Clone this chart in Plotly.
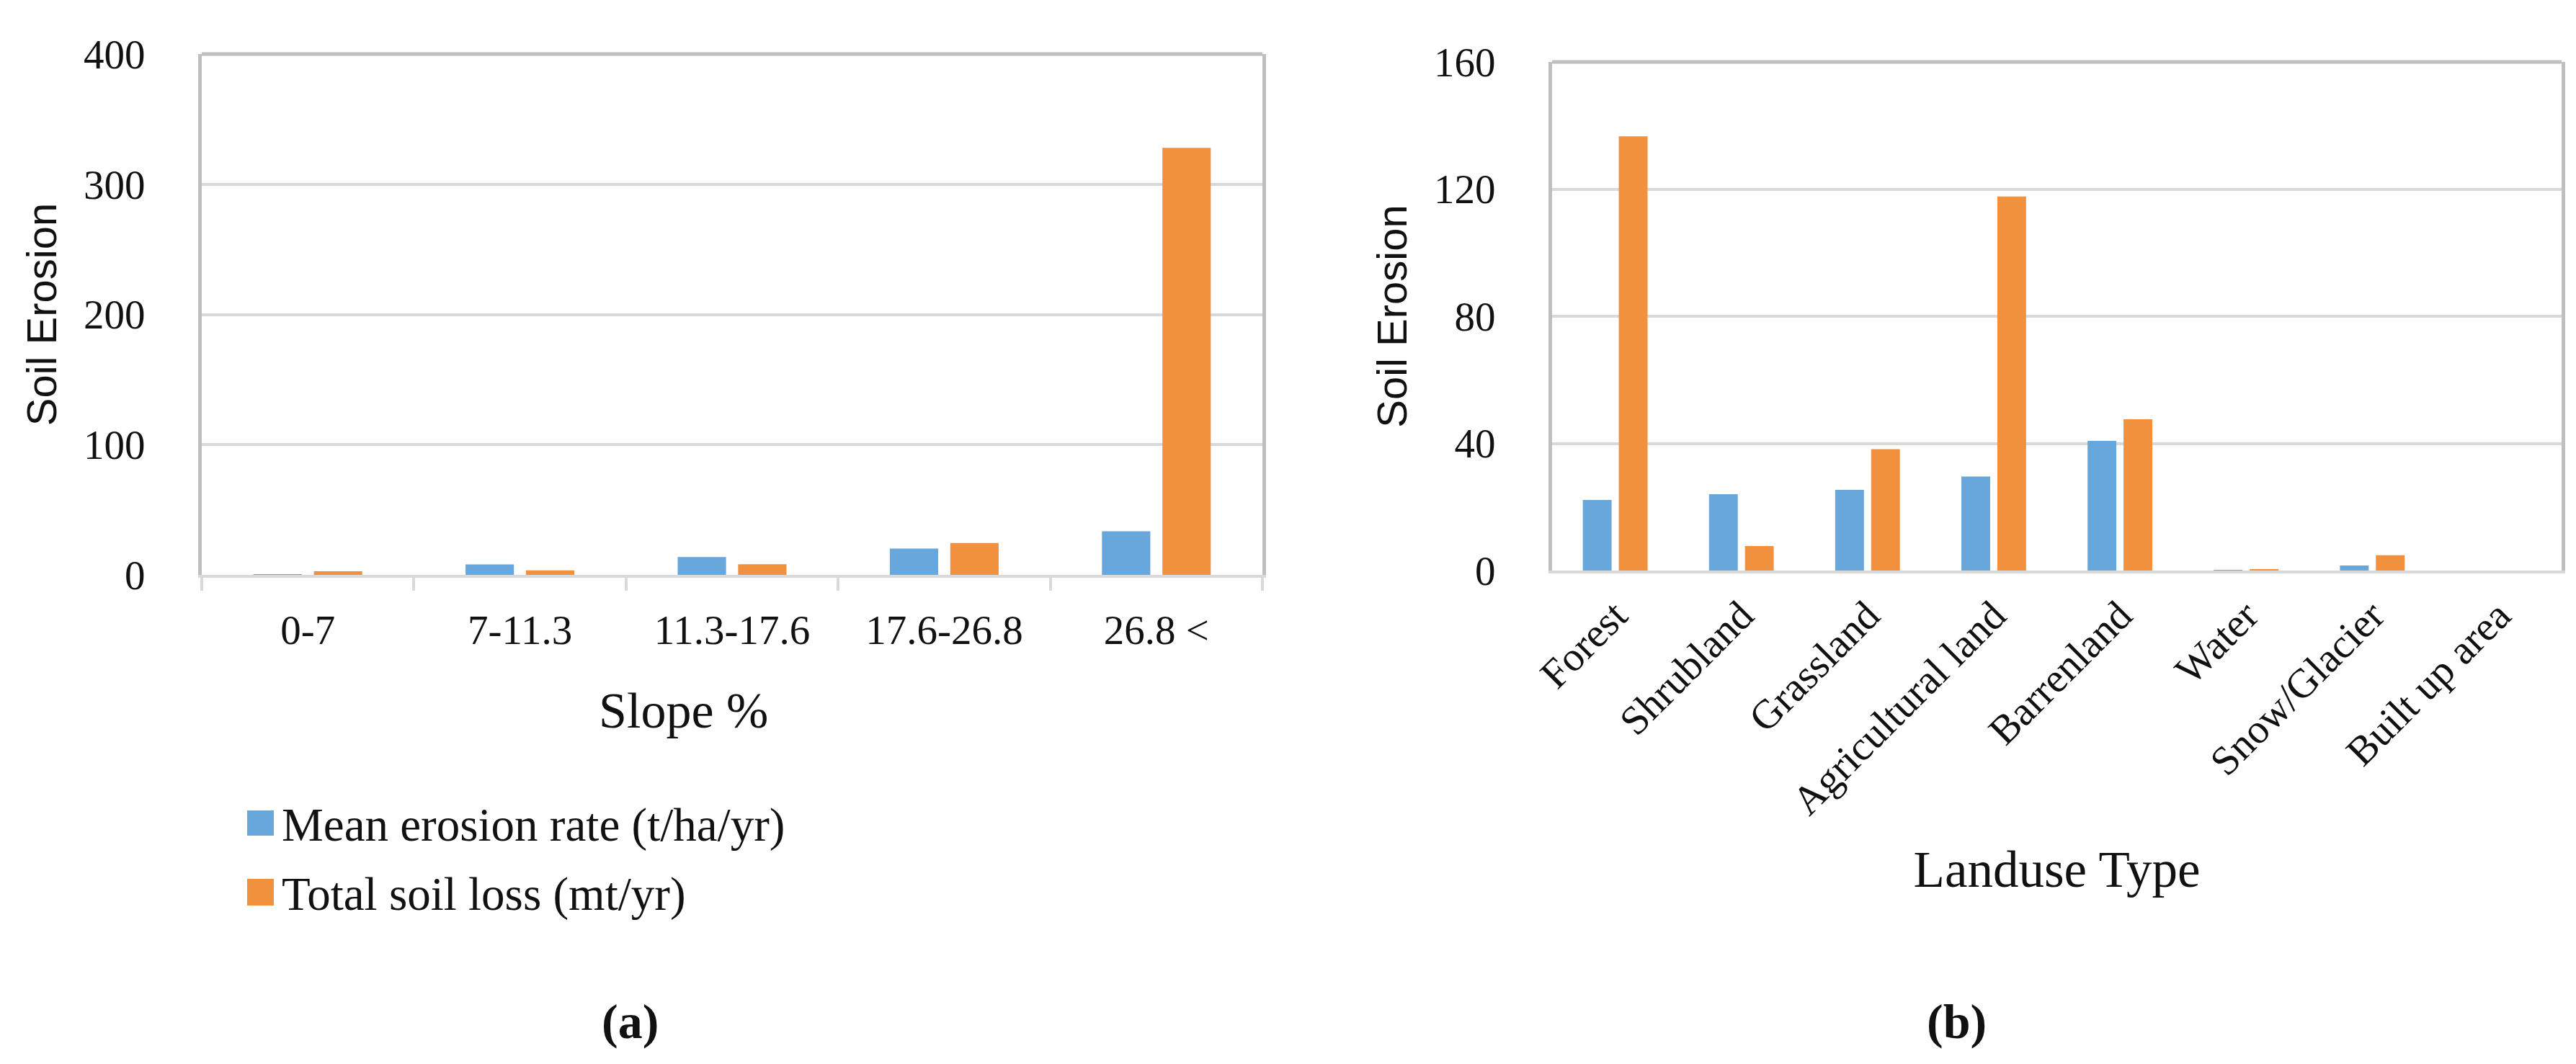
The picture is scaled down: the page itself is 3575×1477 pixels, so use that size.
import plotly.graph_objects as go

# ---------------- data ----------------
slope_classes = ["0-7", "7-11.3", "11.3-17.6", "17.6-26.8", "26.8 <"]
slope_mean_rate = [0.2, 8.0, 13.7, 20.2, 33.5]
slope_total_loss = [2.7, 3.5, 8.1, 24.5, 328.0]

landuse_types = ["Forest", "Shrubland", "Grassland", "Agricultural land",
                 "Barrenland", "Water", "Snow/Glacier", "Built up area"]
landuse_mean_rate = [22.2, 24.0, 25.4, 29.6, 40.8, 0.05, 1.6, 0.0]
landuse_total_loss = [136.6, 7.7, 38.2, 117.7, 47.6, 0.4, 4.8, 0.0]

series_names = ["Mean erosion rate (t/ha/yr)", "Total soil loss (mt/yr)"]
left_y_ticks = [0, 100, 200, 300, 400]
right_y_ticks = [0, 40, 80, 120, 160]

# ---------------- style ----------------
W, H = 3575, 1477
BLUE = "#67A7DC"
ORANGE = "#F1913E"
GRID = "#D9D9D9"
BORDER = "#BFBFBF"
SERIF = "Liberation Serif"
SANS = "Liberation Sans"
TXT = "#111111"


def px_x(v):
    return v / W


def px_y(v):
    return 1 - v / H


fig = go.Figure()
fig.add_trace(go.Bar(x=slope_classes, y=slope_mean_rate, name=series_names[0],
                     marker=dict(color=BLUE, line=dict(width=0)),
                     xaxis="x", yaxis="y", showlegend=False))
fig.add_trace(go.Bar(x=slope_classes, y=slope_total_loss, name=series_names[1],
                     marker=dict(color=ORANGE, line=dict(width=0)),
                     xaxis="x", yaxis="y", showlegend=False))
fig.add_trace(go.Bar(x=landuse_types, y=landuse_mean_rate, name=series_names[0],
                     marker=dict(color=BLUE, line=dict(width=0)),
                     xaxis="x2", yaxis="y2", showlegend=False))
fig.add_trace(go.Bar(x=landuse_types, y=landuse_total_loss, name=series_names[1],
                     marker=dict(color=ORANGE, line=dict(width=0)),
                     xaxis="x2", yaxis="y2", showlegend=False))

common_y = dict(showgrid=True, gridcolor=GRID, gridwidth=4, zeroline=False,
                showline=True, mirror=True, linecolor=BORDER, linewidth=5,
                ticks="", tickfont=dict(family=SERIF, size=57, color=TXT),
                automargin=False, ticklabelstandoff=62)

fig.update_layout(
    template="none",
    width=W, height=H, autosize=False,
    margin=dict(l=0, r=0, t=0, b=0),
    paper_bgcolor="white", plot_bgcolor="white",
    bargap=0.43, bargroupgap=0.2, barmode="group",
    showlegend=False,
    xaxis=dict(domain=[px_x(272), px_x(1744)], anchor="y", type="category",
               showline=True, linecolor=GRID, linewidth=4, showgrid=False,
               ticks="outside", tickson="boundaries", ticklen=18, tickwidth=4,
               tickcolor=GRID,
               tickfont=dict(family=SERIF, size=57, color=TXT),
               ticklabelstandoff=24, automargin=False),
    yaxis=dict(domain=[px_y(790), px_y(67)], anchor="x", range=[0, 400],
               tickvals=left_y_ticks,
               title=dict(text="Soil Erosion", font=dict(family=SANS, size=58, color=TXT),
                          standoff=20),
               **common_y),
    xaxis2=dict(domain=[px_x(2146), px_x(3547)], anchor="y2", type="category",
                showline=True, linecolor=GRID, linewidth=4, showgrid=False,
                ticks="", tickangle=-45,
                tickfont=dict(family=SERIF, size=57, color=TXT),
                ticklabelstandoff=2, automargin=False,
                title=dict(text="Landuse Type", font=dict(family=SERIF, size=71, color=TXT),
                           standoff=40)),
    yaxis2=dict(domain=[px_y(784), px_y(78)], anchor="x2", range=[0, 160],
                tickvals=right_y_ticks,
                title=dict(text="Soil Erosion", font=dict(family=SANS, size=58, color=TXT),
                           standoff=20),
                **common_y),
)

# x title of panel (a) (centred on the chart area, as in the source)
fig.add_annotation(xref="paper", yref="paper", x=px_x(940), y=px_y(978),
                   xanchor="center", yanchor="middle", showarrow=False,
                   text="Slope %", font=dict(family=SERIF, size=70, color=TXT))

# top borders of both plot boxes
for xr, yr in (("x domain", "y domain"), ("x2 domain", "y2 domain")):
    fig.add_shape(type="line", xref=xr, yref=yr, x0=0, x1=1, y0=1, y1=1,
                  line=dict(color=BORDER, width=5), layer="above")

# legend for panel (a)
legend_rows = [(1117, 1152, BLUE, series_names[0]), (1212, 1249, ORANGE, series_names[1])]
for top, bot, col, name in legend_rows:
    fig.add_shape(type="rect", xref="paper", yref="paper",
                  x0=px_x(335), x1=px_x(372), y0=px_y(bot), y1=px_y(top),
                  fillcolor=col, line=dict(width=0))
    fig.add_annotation(xref="paper", yref="paper", x=px_x(381), y=px_y((top + bot) / 2 + 2),
                       xanchor="left", yanchor="middle", showarrow=False,
                       text=name, font=dict(family=SERIF, size=65, color=TXT))

# panel labels
for lbl, cx in (("<b>(a)</b>", 866), ("<b>(b)</b>", 2707)):
    fig.add_annotation(xref="paper", yref="paper", x=px_x(cx), y=px_y(1410),
                       xanchor="center", yanchor="middle", showarrow=False,
                       text=lbl, font=dict(family=SERIF, size=68, color=TXT))

fig.write_html("out.html")
